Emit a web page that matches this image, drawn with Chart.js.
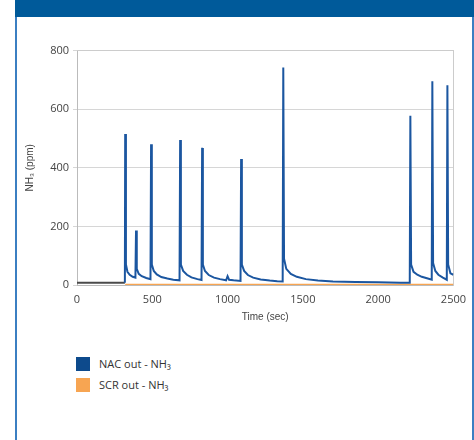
<!DOCTYPE html>
<html>
<head>
<meta charset="utf-8">
<script src="https://cdn.jsdelivr.net/npm/chart.js@4"></script>
<style>
  body { margin: 0; background: #fff; font-family: "Open Sans", "Liberation Sans", sans-serif; }
  #frame { position: absolute; left: 15px; top: 0; width: 455px; height: 440px;
           border-left: 2px solid #3b7fc2; border-right: 2px solid #3b7fc2; }
  #header { position: absolute; left: 15px; top: 0; width: 459px; height: 17px; background: #005a9a; }
  #chartBox { position: absolute; left: 20px; top: 40px; width: 450px; height: 287px; }
  #legend { position: absolute; left: 76px; top: 353px; font-size: 11px; color: #333; }
  .item { display: flex; align-items: center; height: 21px; }
  .sw { width: 14px; height: 14px; margin-right: 9px; }
</style>
</head>
<body>
<div id="frame"></div>
<div id="header"></div>
<div id="chartBox"><canvas id="nh3Chart"></canvas></div>
<div id="legend">
  <div class="item"><span class="sw" style="background:#0d4a8c"></span>NAC out - NH₃</div>
  <div class="item"><span class="sw" style="background:#f7a552"></span>SCR out - NH₃</div>
</div>
<script>
// 時間 (sec) と NAC 出口 NH3 (ppm)
const timeSec = [
  0, 100, 200, 300, 318,
  320, 325, 335, 350, 370, 388,
  392, 397, 410, 430, 460, 488,
  492, 497, 510, 530, 560, 600, 640, 681,
  685, 690, 705, 730, 760, 800, 827,
  831, 836, 850, 875, 910, 950, 990,
  1000, 1010, 1040, 1086,
  1090, 1095, 1110, 1135, 1170, 1220, 1280, 1330, 1366,
  1370, 1375, 1390, 1420, 1460, 1520, 1600, 1700, 1850, 2000, 2150, 2210,
  2214, 2219, 2235, 2260, 2290, 2330, 2356,
  2360, 2365, 2380, 2400, 2430, 2456,
  2460, 2465, 2480, 2500
];
const nacPpm = [
  8, 8, 8, 8, 8,
  515, 70, 45, 35, 28, 25,
  186, 55, 38, 30, 24, 20,
  480, 70, 48, 36, 27, 22, 18, 16,
  495, 70, 48, 35, 26, 20, 17,
  468, 70, 48, 34, 25, 20, 16,
  30, 18, 16, 14,
  430, 70, 48, 34, 25, 19, 15, 13, 12,
  742, 90, 55, 38, 28, 20, 15, 12, 10, 9, 8, 8,
  578, 70, 45, 35, 28, 22, 18,
  695, 75, 48, 35, 25, 18,
  682, 70, 40, 35
];
// SCR 出口 NH3 (ppm)
const scrTime = [320, 800, 1400, 2000, 2500];
const scrPpm = [1, 1, 1, 1, 1];

const xTicks = [0, 500, 1000, 1500, 2000, 2500];
const yTicks = [0, 200, 400, 600, 800];

const nacData = timeSec.map((t, i) => ({ x: t, y: nacPpm[i] }));
const scrData = scrTime.map((t, i) => ({ x: t, y: scrPpm[i] }));

const tickFont = { family: "Open Sans, Liberation Sans, sans-serif", size: 11 };

new Chart(document.getElementById("nh3Chart"), {
  type: "line",
  data: {
    datasets: [
      {
        label: "NAC out - NH₃",
        data: nacData,
        borderColor: "#1b56a0",
        borderWidth: 2,
        pointRadius: 0,
        tension: 0,
        segment: {
          borderColor: (ctx) => ctx.p0.parsed.x < 318 ? "#4a4a4a" : "#1b56a0",
        },
      },
      {
        label: "SCR out - NH₃",
        data: scrData,
        borderColor: "#f7a552",
        borderWidth: 2,
        pointRadius: 0,
        order: 1,
      },
    ],
  },
  options: {
    responsive: true,
    maintainAspectRatio: false,
    animation: false,
    layout: { padding: { top: 10, right: 12 } },
    plugins: { legend: { display: false }, tooltip: { enabled: false } },
    scales: {
      x: {
        type: "linear",
        min: 0,
        max: 2500,
        afterBuildTicks: (axis) => { axis.ticks = xTicks.map((v) => ({ value: v })); },
        afterFit: (axis) => { axis.height = 42; },
        grid: { display: false, drawOnChartArea: false, tickLength: 4, color: "#bbb" },
        border: { color: "#bbb" },
        ticks: { color: "#444", font: tickFont, padding: 4, callback: (v) => String(v) },
        title: { display: true, text: "Time (sec)", color: "#444", font: { size: 10 }, padding: { top: 1 } },
      },
      y: {
        min: 0,
        max: 800,
        afterBuildTicks: (axis) => { axis.ticks = yTicks.map((v) => ({ value: v })); },
        afterFit: (axis) => { axis.width = 57; },
        grid: { color: "#d6d6d6", tickLength: 4 },
        border: { color: "#bbb" },
        ticks: { color: "#444", font: tickFont, padding: 4, callback: (v) => String(v) },
        title: { display: true, text: "NH₃ (ppm)", color: "#444", font: { size: 10 } },
      },
      x2: {
        type: "linear",
        position: "top",
        display: true,
        min: 0,
        max: 2500,
        ticks: { display: false },
        grid: { display: false },
        border: { color: "#ccc" },
        afterFit: (axis) => { axis.height = 0; },
      },
      y2: {
        position: "right",
        min: 0,
        max: 800,
        ticks: { display: false },
        grid: { display: false },
        border: { color: "#ccc" },
        afterFit: (axis) => { axis.width = 0; },
      },
    },
  },
});
</script>
</body>
</html>
